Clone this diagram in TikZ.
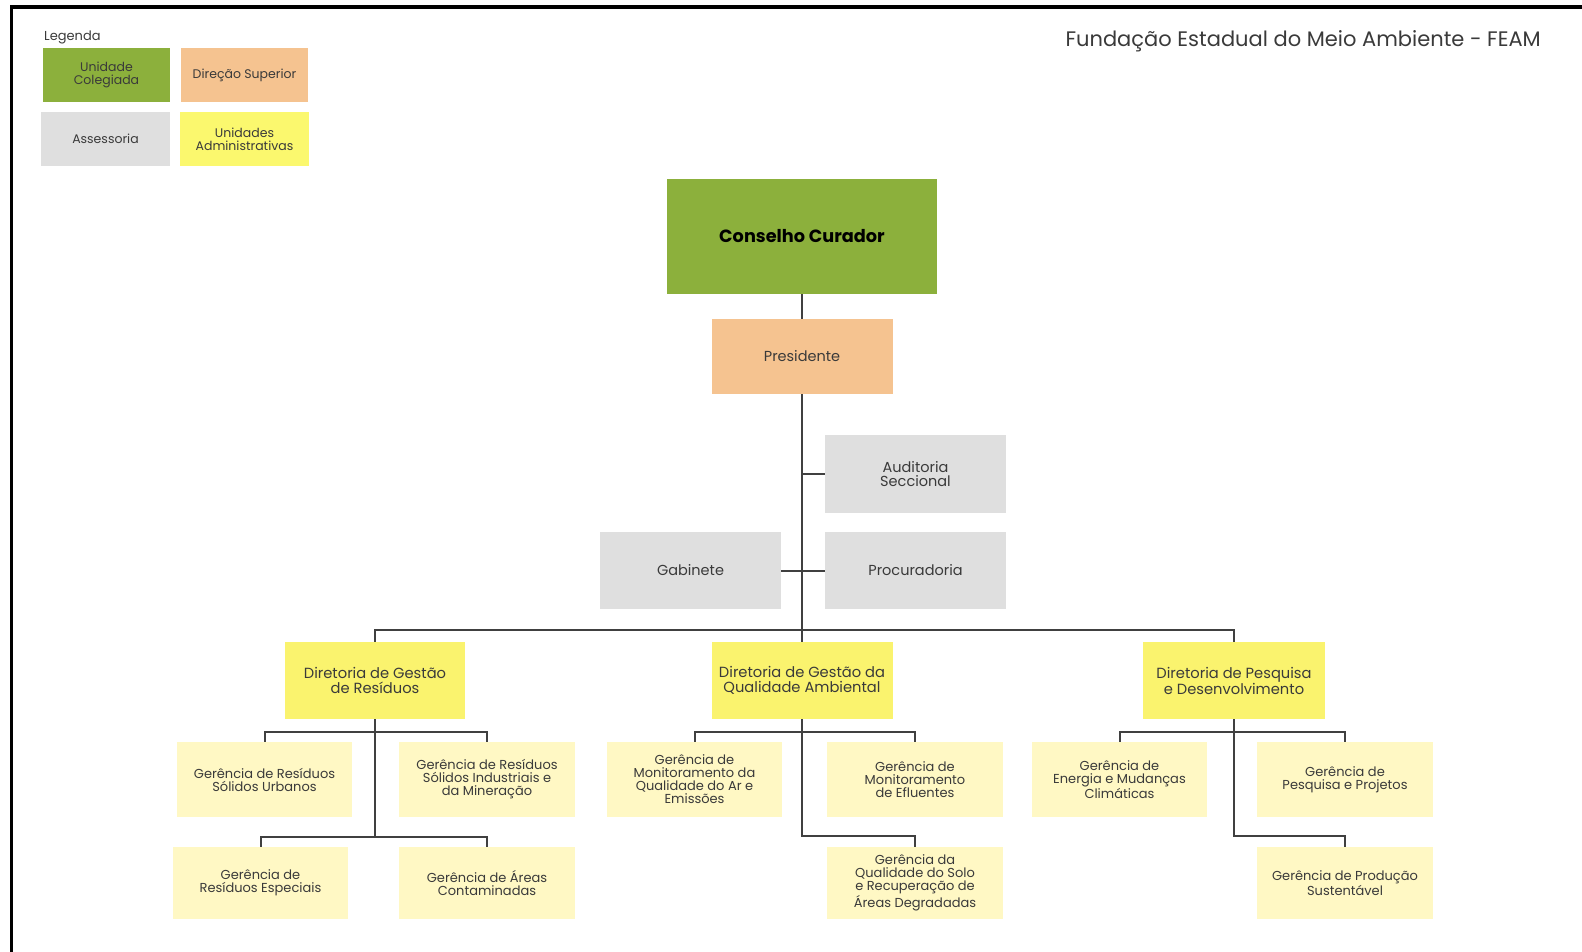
\documentclass[tikz,border=0pt]{standalone}
\usepackage{fontspec}
\setmainfont{Poppins}
\definecolor{colegiada}{HTML}{8CB03C}
\definecolor{direcao}{HTML}{F5C390}
\definecolor{assessoria}{HTML}{DFDFDF}
\definecolor{admleg}{HTML}{FBF86E}
\definecolor{diretoria}{HTML}{FAF36E}
\definecolor{gerencia}{HTML}{FFF8C4}
\definecolor{linha}{HTML}{404040}
\definecolor{txt}{HTML}{3A3A3A}
\begin{document}
\begin{tikzpicture}[x=1pt,y=-1pt,
    every node/.style={align=center,text=txt,inner sep=2pt},
    legbox/.style={minimum width=127,minimum height=54,font=\fontsize{12.5}{13}\selectfont},
    assess/.style={fill=assessoria,minimum width=181,minimum height=77,font=\fontsize{14.5}{14.5}\selectfont},
    dir/.style={fill=diretoria,minimum width=181,minimum height=77,font=\fontsize{14.7}{14.5}\selectfont},
    ger/.style={fill=gerencia,minimum width=175,minimum height=75,font=\fontsize{13}{13}\selectfont},
    conn/.style={draw=linha,line width=2pt}]
    \useasboundingbox (0,0) rectangle (1582,952);
    \draw[line width=3.5pt] (11.5,952) -- (11.5,7) -- (1582,7);

    % legenda
    \node[anchor=base west,font=\fontsize{13}{13}\selectfont] (legenda) at (42,41) {Legenda};
    \node[legbox,fill=colegiada] (lgcol) at (106.5,75) {Unidade\\Colegiada};
    \node[legbox,fill=direcao] (lgdir) at (244.5,75) {Direção Superior};
    \node[legbox,fill=assessoria,minimum width=129] (lgass) at (105.5,139) {Assessoria};
    \node[legbox,fill=admleg,minimum width=129] (lgadm) at (244.5,139) {Unidades\\Administrativas};
    \node[anchor=base east,font=\fontsize{21}{22}\selectfont] (titulo) at (1543,47) {Fundação Estadual do Meio Ambiente - FEAM};

    % topo
    \node[fill=colegiada,minimum width=270,minimum height=115,text=black,font=\fontsize{17.7}{18}\bfseries] (cons) at (802,236.5) {Conselho Curador};
    \node[fill=direcao,minimum width=181,minimum height=75,font=\fontsize{14.5}{14.5}\selectfont] (pres) at (802,356.5) {Presidente};
    \node[assess,minimum height=78] (aud) at (915.5,474) {Auditoria\\Seccional};
    \node[assess] (gab) at (690.5,570.5) {Gabinete};
    \node[assess] (proc) at (915.5,570.5) {Procuradoria};

    % diretorias
    \node[dir,minimum width=180] (dgr) at (375,680.5) {Diretoria de Gestão\\de Resíduos};
    \node[dir] (dgq) at (802,680.5) {Diretoria de Gestão da\\Qualidade Ambiental};
    \node[dir,minimum width=182] (dpd) at (1234,680.5) {Diretoria de Pesquisa\\e Desenvolvimento};

    % gerencias
    \node[ger] (g1) at (264.5,779.5) {Gerência de Resíduos\\Sólidos Urbanos};
    \node[ger,minimum width=176] (g2) at (487,779.5) {Gerência de Resíduos\\Sólidos Industriais e\\da Mineração};
    \node[ger,minimum height=72] (g3) at (260.5,883) {Gerência de\\Resíduos Especiais};
    \node[ger,minimum width=176,minimum height=72] (g4) at (487,883) {Gerência de Áreas\\Contaminadas};
    \node[ger] (m1) at (694.5,779.5) {Gerência de\\Monitoramento da\\Qualidade do Ar e\\Emissões};
    \node[ger,minimum width=176] (m2) at (915,779.5) {Gerência de\\Monitoramento\\de Efluentes};
    \node[ger,minimum width=176,minimum height=72] (m3) at (915,883) {Gerência da\\Qualidade do Solo\\e Recuperação de\\Áreas Degradadas};
    \node[ger] (p1) at (1119.5,779.5) {Gerência de\\Energia e Mudanças\\Climáticas};
    \node[ger,minimum width=176] (p2) at (1345,779.5) {Gerência de\\Pesquisa e Projetos};
    \node[ger,minimum width=176,minimum height=72] (p3) at (1345,883) {Gerência de Produção\\Sustentável};

    \draw[conn] (cons) -- (pres);
    \draw[conn] (pres) -- (dgq);
    \draw[conn] (aud.west) -- (aud.west -| pres.south);
    \draw[conn] (gab) -- (proc);
    \draw[conn] (dgr.north) -- ++(0,-12) -| (dpd.north);

    \draw[conn] (dgr.south) -- ++(0,118);
    \draw[conn] (g1.north) -- ++(0,-10) -| (g2.north);
    \draw[conn] (g3.north) -- ++(0,-10) -| (g4.north);
    \draw[conn] (m1.north) -- ++(0,-10) -| (m2.north);
    \draw[conn] (dgq.south) -- ++(0,117) -| (m3.north);
    \draw[conn] (p1.north) -- ++(0,-10) -| (p2.north);
    \draw[conn] (dpd.south) -- ++(0,117) -| (p3.north);
\end{tikzpicture}
\end{document}
